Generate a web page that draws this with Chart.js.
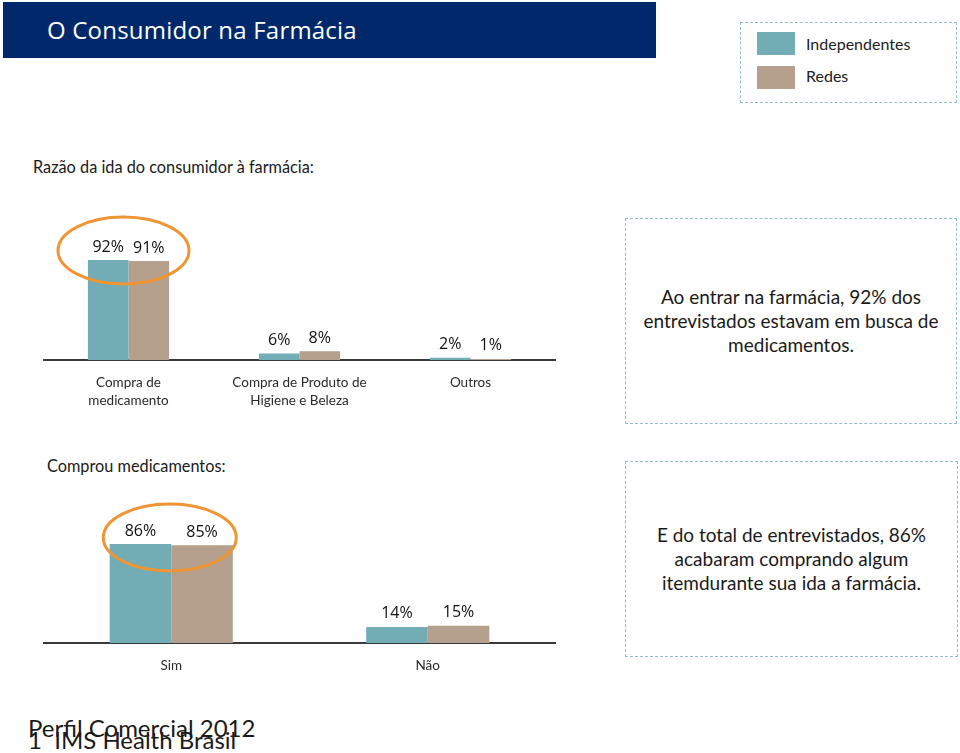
<!DOCTYPE html>
<html>
<head>
<meta charset="utf-8">
<script src="https://cdn.jsdelivr.net/npm/chart.js@4.4.1/dist/chart.umd.min.js"></script>
<style>
  html,body{margin:0;padding:0;background:#fff;}
  body{width:960px;height:753px;position:relative;overflow:hidden;font-family:"Lato","Open Sans",sans-serif;color:#111;}
  .abs{position:absolute;}
  #banner{left:3px;top:2px;width:653px;height:56px;background:#00286b;}
  #banner span{position:absolute;left:44px;top:11px;color:#fff;font-family:"Open Sans",sans-serif;font-size:24px;letter-spacing:0.2px;}
  .dash{border:1.5px dashed #94bcc4;box-sizing:border-box;}
  #legend{left:740px;top:22px;width:217px;height:81px;}
  .sw{position:absolute;width:38px;height:23px;}
  .lt{position:absolute;font-size:16px;color:#222;}
  .note{display:flex;align-items:center;justify-content:center;text-align:center;font-size:19px;line-height:24px;color:#1a1a1a;}
  .hdr{font-size:16.3px;color:#1a1a1a;}
  .foot{font-size:24px;color:#1a1a1a;white-space:nowrap;}
</style>
</head>
<body>
<div id="banner" class="abs"><span>O Consumidor na Farmácia</span></div>

<div id="legend" class="abs dash">
  <div class="sw" style="left:16px;top:9px;background:#72adb5"></div>
  <div class="lt" style="left:65px;top:11px">Independentes</div>
  <div class="sw" style="left:16px;top:43px;background:#b59f8d"></div>
  <div class="lt" style="left:65px;top:43px">Redes</div>
</div>

<div class="abs hdr" style="left:33px;top:157px">Razão da ida do consumidor à farmácia:</div>
<div class="abs hdr" style="left:47px;top:456px">Comprou medicamentos:</div>

<div class="abs" style="left:43px;top:200px;width:513px;height:220px"><canvas id="c1"></canvas></div>
<div class="abs" style="left:43px;top:500px;width:513px;height:203px"><canvas id="c2"></canvas></div>

<div class="abs dash note" style="left:625px;top:218px;width:332px;height:206px">Ao entrar na farmácia, 92% dos<br>entrevistados estavam em busca de<br>medicamentos.</div>
<div class="abs dash note" style="left:625px;top:461px;width:333px;height:196px">E do total de entrevistados, 86%<br>acabaram comprando algum<br>itemdurante sua ida a farmácia.</div>

<div class="abs foot" style="left:28px;top:713px">Perfil Comercial 2012</div>
<div class="abs foot" style="left:28px;top:725px">1&nbsp; IMS Health Brasil</div>

<script>
// ---- data ----
const seriesNames = ['Independentes', 'Redes'];
const categories1 = [['Compra de', 'medicamento'], ['Compra de Produto de', 'Higiene e Beleza'], 'Outros'];
const independentes1 = [92, 6, 2];
const redes1 = [91, 8, 1];
const categories2 = ['Sim', 'Não'];
const independentes2 = [86, 14];
const redes2 = [85, 15];
// ---------------

const TEAL = '#72adb5', BROWN = '#b59f8d', ORANGE = '#ef9533';

const valueLabels = {
  id: 'valueLabels',
  afterDatasetsDraw(chart, args, opts) {
    const ctx = chart.ctx;
    ctx.save();
    ctx.font = '16px "Open Sans", sans-serif';
    ctx.fillStyle = '#111';
    ctx.textAlign = 'center';
    ctx.textBaseline = 'middle';
    chart.data.datasets.forEach((ds, di) => {
      const meta = chart.getDatasetMeta(di);
      meta.data.forEach((el, i) => {
        ctx.fillText(ds.data[i] + '%', el.x, el.y - opts.offset);
      });
    });
    ctx.restore();
  }
};

const highlight = {
  id: 'highlight',
  afterDatasetsDraw(chart, args, opts) {
    const a = chart.getDatasetMeta(0).data[opts.index];
    const b = chart.getDatasetMeta(1).data[opts.index];
    const cx = (a.x + b.x) / 2 + opts.dx;
    const cy = Math.min(a.y, b.y) + opts.dy;
    const ctx = chart.ctx;
    ctx.save();
    ctx.strokeStyle = ORANGE;
    ctx.lineWidth = 3;
    ctx.beginPath();
    ctx.ellipse(cx, cy, opts.rx, opts.ry, 0, 0, Math.PI * 2);
    ctx.stroke();
    ctx.restore();
  }
};

function makeChart(id, cats, ind, red, yMax, catPct, ell) {
  return new Chart(document.getElementById(id), {
    type: 'bar',
    data: {
      labels: cats,
      datasets: [
        { label: seriesNames[0], data: ind, backgroundColor: TEAL },
        { label: seriesNames[1], data: red, backgroundColor: BROWN }
      ]
    },
    options: {
      responsive: true,
      maintainAspectRatio: false,
      animation: false,
      devicePixelRatio: 1,
      layout: { padding: 0 },
      datasets: { bar: { categoryPercentage: catPct, barPercentage: 1 } },
      plugins: {
        legend: { display: false },
        tooltip: { enabled: false },
        valueLabels: { offset: 13 },
        highlight: ell
      },
      scales: {
        x: {
          grid: { display: false, drawTicks: false },
          border: { display: true, color: '#3a3a3a', width: 2 },
          ticks: {
            color: '#2a2a2a',
            font: { family: 'Lato, "Open Sans", sans-serif', size: 13.5, lineHeight: 1.33 },
            padding: 14,
            maxRotation: 0,
            autoSkip: false
          },
          afterFit(s) { s.height = 60; }
        },
        y: { display: false, min: 0, max: yMax }
      }
    },
    plugins: [valueLabels, highlight]
  });
}

makeChart('c1', categories1, independentes1, redes1, 147.2, 0.475,
  { index: 0, dx: -5, dy: -9.5, rx: 65.5, ry: 33.5 });
makeChart('c2', categories2, independentes2, redes2, 124.2, 0.48,
  { index: 0, dx: -1.5, dy: -6.5, rx: 66.5, ry: 33.5 });
</script>
</body>
</html>
